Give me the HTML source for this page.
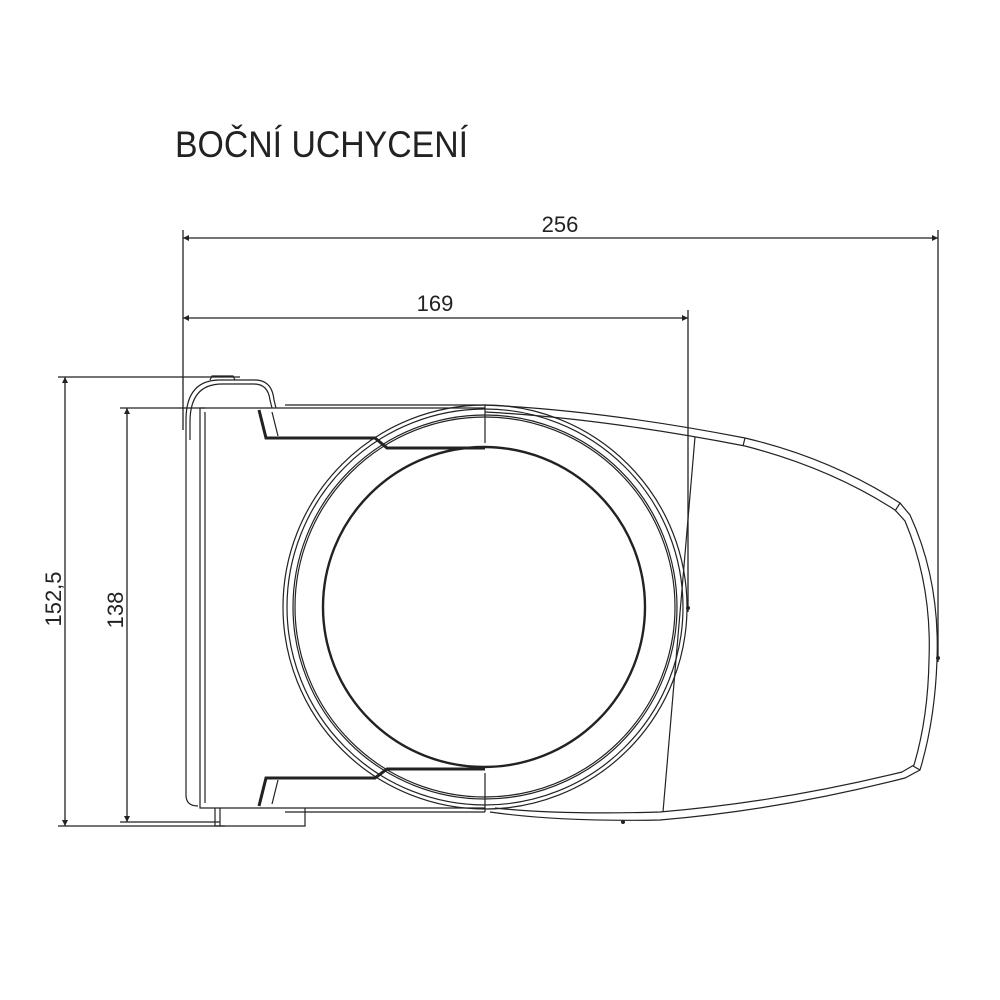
<!DOCTYPE html>
<html><head><style>html,body{margin:0;padding:0;background:#fff}svg{display:block}</style></head>
<body>
<svg width="1000" height="1000" viewBox="0 0 1000 1000" xmlns="http://www.w3.org/2000/svg" font-family="Liberation Sans, sans-serif">
<defs>
<marker id="a" viewBox="0 0 10 10" refX="10" refY="5" markerWidth="18" markerHeight="6" markerUnits="userSpaceOnUse" orient="auto-start-reverse"><path d="M0,0 L10,5 L0,10 z" fill="#222"/></marker>
</defs>
<text x="175" y="157" font-size="37" textLength="293" lengthAdjust="spacingAndGlyphs" fill="#222">BOČNÍ UCHYCENÍ</text>
<g stroke="#222" stroke-width="1.3" fill="none">
<line x1="183" y1="238" x2="938" y2="238" marker-start="url(#a)" marker-end="url(#a)"/>
<line x1="183" y1="318" x2="688" y2="318" marker-start="url(#a)" marker-end="url(#a)"/>
<line x1="183" y1="230" x2="183" y2="430"/>
<line x1="688" y1="310" x2="688" y2="612"/>
<line x1="938" y1="230" x2="938" y2="662"/>
<line x1="65" y1="377" x2="65" y2="826" marker-start="url(#a)" marker-end="url(#a)"/>
<line x1="127" y1="408" x2="127" y2="822" marker-start="url(#a)" marker-end="url(#a)"/>
<line x1="58" y1="377" x2="240" y2="377"/>
<line x1="120" y1="408" x2="205" y2="408"/>
<line x1="58" y1="826" x2="225" y2="826"/>
<line x1="120" y1="822" x2="220" y2="822"/>
</g>
<g fill="#222" font-size="22">
<text x="560" y="232" text-anchor="middle">256</text>
<text x="435" y="311" text-anchor="middle">169</text>
<text transform="translate(61,599) rotate(-90)" text-anchor="middle">152,5</text>
<text transform="translate(123,610) rotate(-90)" text-anchor="middle">138</text>
</g>
<g stroke="#222" stroke-width="1.2" fill="none">
<path d="M200,408 L485,408 M200,408 L200,808 L485,808"/>
<path d="M205,412 L205,803"/>
<path d="M186,795 L186,420 Q186,380 220,380 L255,380 Q272,380 274,400 L276,408"/>
<path d="M190,440 L190,422 Q190,384 222,384 L254,384 Q268,384 270,400 L272,408"/>
<path d="M210,380 L212,376 L233,376 L235,380"/>
<path d="M186,795 Q186,806 198,806"/>
<path d="M285,405 L485,405"/>
<path d="M485,405 L485,443"/>
<path d="M485,773 L485,812"/>
<path d="M285,812 L485,812 M215,808 L215,826 L305,826 L305,808 M220,808 L220,826"/>
<path d="M259,410 L266,438 L375,438 L387,448 L485,448" stroke-width="3"/>
<path d="M259,806 L266,778 L375,778 L387,769 L485,769" stroke-width="3"/>
<path d="M272,412 L278,436 M272,804 L278,780"/>
<circle cx="485" cy="607" r="202"/>
<circle cx="485" cy="607" r="198"/>
<circle cx="485" cy="607" r="192"/>
<circle cx="485" cy="607" r="190"/>
<ellipse cx="484" cy="607" rx="161" ry="160" stroke-width="2.4"/>
<path d="M485,405 Q600,410 745,438 Q830,458 900,503 L910,515 Q940,580 937,660 Q935,720 920,770 L905,778 Q780,810 660,820 Q560,822 490,812"/>
<path d="M485,412 Q600,418 745,446 Q830,468 895,510 L905,521 Q932,585 929,660 Q928,718 914,765 L902,772 Q780,802 660,812 Q560,815 495,808"/>
<path d="M745,438 L743,446 M900,503 L895,511 M920,770 L913,766"/>
<path d="M695,437 L663,812"/>
</g>
<g fill="#222"><circle cx="688" cy="608" r="2"/><circle cx="938" cy="658" r="2"/><circle cx="623" cy="822" r="2"/></g>
</svg>
</body></html>
